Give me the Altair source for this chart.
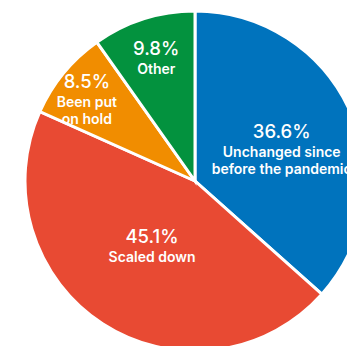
import altair as alt
import pandas as pd

# Data (clockwise from 12 o'clock)
categories = ["Unchanged since before the pandemic", "Scaled down", "Been put on hold", "Other"]
values = [36.6, 45.1, 8.5, 9.8]
pct_labels = ["36.6%", "45.1%", "8.5%", "9.8%"]
name_labels = ["Unchanged since\nbefore the pandemic", "Scaled down", "Been put\non hold", "Other"]

# Styling
colors = ["#0073BD", "#E84A33", "#F18D00", "#03923E"]
label_radius = [95, 79, 140, 128]

df = pd.DataFrame({
    "cat": categories,
    "value": values,
    "pct": pct_labels,
    "name": name_labels,
    "idx": list(range(len(categories))),
    "lr": label_radius,
})

CX, CY, R = 195, 181, 170

arcs = alt.Chart(df).mark_arc(radius=R, stroke="white", strokeWidth=3).encode(
    theta=alt.Theta("value:Q", stack=True),
    order=alt.Order("idx:Q", sort="ascending"),
    color=alt.Color("cat:N", scale=alt.Scale(domain=categories, range=colors), legend=None),
    x=alt.value(CX),
    y=alt.value(CY),
)

text_base = alt.Chart(df).transform_joinaggregate(
    total="sum(value)"
).transform_window(
    cum="sum(value)", sort=[alt.SortField("idx", order="ascending")],
    frame=[None, 0],
).transform_calculate(
    mid="2*PI*(datum.cum - datum.value/2)/datum.total"
).transform_calculate(
    tx=f"{CX} + datum.lr*sin(datum.mid)",
    ty=f"{CY} - datum.lr*cos(datum.mid)",
).encode(
    x=alt.X("tx:Q", scale=None, axis=None),
    y=alt.Y("ty:Q", scale=None, axis=None),
)

pct = text_base.mark_text(
    font="Inter", fontSize=18.5, fontWeight=500, color="white",
    dy=-4, baseline="alphabetic", align="center",
).encode(text="pct:N")

names = text_base.mark_text(
    font="Inter", fontSize=14, fontWeight=600, color="white",
    dy=15, baseline="alphabetic", align="center", lineBreak="\n", lineHeight=17,
).encode(text="name:N")

chart = alt.layer(arcs, pct, names).properties(
    width=347, height=346,
    padding=0,
    autosize=alt.AutoSizeParams(type="none"),
    background="white",
).configure_view(stroke=None)

chart.save("out.html", embed_options={"renderer": "svg", "actions": False})
